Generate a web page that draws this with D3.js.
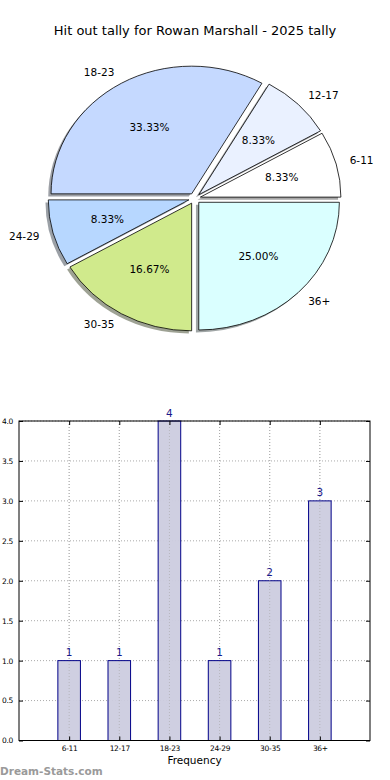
<!DOCTYPE html>
<html>
<head>
<meta charset="utf-8">
<script src="https://cdn.jsdelivr.net/npm/d3@7"></script>
<style>
html,body{margin:0;padding:0;background:#fff;}
svg{display:block;font-family:"DejaVu Sans",sans-serif;}
</style>
</head>
<body>
<svg id="c" width="390" height="780"></svg>
<script>
const title = "Hit out tally for Rowan Marshall - 2025 tally";
const categories = ["6-11","12-17","18-23","24-29","30-35","36+"];
const values = [1,1,4,1,2,3];
const pieColors = ["#ffffff","#eaf1ff","#c5d9ff","#b7d7ff","#d0ea8c","#daffff"];
const yTicks = [0,0.5,1,1.5,2,2.5,3,3.5,4];
const xLabel = "Frequency";
const watermark = "Dream-Stats.com";

const svg = d3.select("#c");

// ---------- Title ----------
svg.append("text").attr("x",195).attr("y",35).attr("text-anchor","middle")
  .attr("font-size",13).attr("fill","#000").text(title);

// ---------- Pie (elliptical, matplotlib style) ----------
const cx = 194.6, cy = 198.5, rx = 140.6, ry = 127.7;
const expl = 0.042;
const total = d3.sum(values);
let acc = 0;
const slices = values.map((v,i)=>{
  const t1 = acc/total*2*Math.PI; acc += v; const t2 = acc/total*2*Math.PI;
  const tm = (t1+t2)/2;
  return {i, v, t1, t2, tm,
    ox: expl*rx*Math.cos(tm), oy: -expl*ry*Math.sin(tm)};
});
const arc = d3.arc().innerRadius(0).outerRadius(1);
const pathFor = s => arc({startAngle: Math.PI/2 - s.t2, endAngle: Math.PI/2 - s.t1});

const pie = svg.append("g");
// shadows
slices.forEach(s=>{
  const c = d3.rgb(pieColors[s.i]);
  pie.append("path").attr("d", pathFor(s))
    .attr("transform",`translate(${cx+s.ox-0.02*rx},${cy+s.oy+0.02*ry}) scale(${rx},${ry})`)
    .attr("fill", d3.rgb(c.r*0.3,c.g*0.3,c.b*0.3)).attr("fill-opacity",0.5);
});
slices.forEach(s=>{
  pie.append("path").attr("d", pathFor(s))
    .attr("transform",`translate(${cx+s.ox},${cy+s.oy}) scale(${rx},${ry})`)
    .attr("fill", pieColors[s.i]).attr("stroke","#000").attr("stroke-width",0.8)
    .attr("vector-effect","non-scaling-stroke").attr("stroke-linejoin","round");
});
slices.forEach(s=>{
  const lx = cx + s.ox + 1.1*rx*Math.cos(s.tm);
  const ly = cy + s.oy - 1.1*ry*Math.sin(s.tm);
  pie.append("text").attr("x",lx).attr("y",ly).attr("dy","0.35em")
    .attr("text-anchor", Math.cos(s.tm) < 0 ? "end" : "start")
    .attr("font-size",10.5).attr("fill","#000").text(categories[s.i]);
  const px = cx + s.ox + 0.6*rx*Math.cos(s.tm);
  const py = cy + s.oy - 0.6*ry*Math.sin(s.tm);
  pie.append("text").attr("x",px).attr("y",py).attr("dy","0.35em")
    .attr("text-anchor","middle").attr("font-size",10.5).attr("fill","#000")
    .text((s.v/total*100).toFixed(2)+"%");
});

// ---------- Bar chart ----------
const L = 19, R = 370, T = 421, B = 740.5;
const x = d3.scaleLinear().domain([-1,6]).range([L,R]);
const y = d3.scaleLinear().domain([0,4]).range([B,T]);
const g = svg.append("g");
const bw = x(0.45)-x(0);

// grid
g.selectAll(".hg").data(yTicks).join("line")
  .attr("x1",L).attr("x2",R).attr("y1",d=>y(d)).attr("y2",d=>y(d))
  .attr("stroke","#aaa").attr("stroke-width",1).attr("stroke-dasharray","1,2");
g.selectAll(".vg").data(categories).join("line")
  .attr("x1",(d,i)=>x(i)).attr("x2",(d,i)=>x(i)).attr("y1",T).attr("y2",B)
  .attr("stroke","#aaa").attr("stroke-width",1).attr("stroke-dasharray","1,2");

// bars
g.selectAll(".bar").data(values).join("rect")
  .attr("x",(d,i)=>x(i)-bw/2).attr("width",bw)
  .attr("y",d=>y(d)).attr("height",d=>B-y(d))
  .attr("fill","#ccccdf").attr("fill-opacity",0.95)
  .attr("stroke","#000088").attr("stroke-width",1);
// grid over bars
g.selectAll(".vg2").data(categories).join("line")
  .attr("x1",(d,i)=>x(i)).attr("x2",(d,i)=>x(i)).attr("y1",d=>T).attr("y2",B)
  .attr("stroke","#aaa").attr("stroke-width",1).attr("stroke-dasharray","1,2").attr("opacity",0.6);

// value labels
g.selectAll(".vl").data(values).join("text")
  .attr("x",(d,i)=>x(i)).attr("y",d=>y(d)-4.5)
  .attr("text-anchor","middle").attr("font-size",10.5).attr("fill","#1a1a8c")
  .text(d=>d);

// frame
g.append("rect").attr("x",L).attr("y",T).attr("width",R-L).attr("height",B-T)
  .attr("fill","none").attr("stroke","#000").attr("stroke-width",1);

// axes ticks (inward)
const yAxis = d3.axisLeft(y).tickValues(yTicks).tickFormat(d3.format(".1f")).tickSizeInner(-4).tickSizeOuter(0).tickPadding(6);
const ya = g.append("g").attr("transform",`translate(${L},0)`).call(yAxis);
ya.select(".domain").remove();
ya.selectAll("text").attr("font-size",7.5).attr("fill","#000").attr("font-family","DejaVu Sans").attr("letter-spacing","-0.3");
ya.selectAll("line").attr("stroke","#000");
const yr = g.append("g").attr("transform",`translate(${R},0)`).call(d3.axisRight(y).tickValues(yTicks).tickSizeInner(-4).tickSizeOuter(0).tickFormat(""));
yr.select(".domain").remove();

const xAxis = d3.axisBottom(x).tickValues(d3.range(categories.length)).tickFormat(i=>categories[i]).tickSizeInner(-4).tickSizeOuter(0).tickPadding(5);
const xa = g.append("g").attr("transform",`translate(0,${B})`).call(xAxis);
xa.select(".domain").remove();
xa.selectAll("text").attr("font-size",7.5).attr("fill","#000").attr("font-family","DejaVu Sans").attr("letter-spacing","-0.3");
xa.selectAll("line").attr("stroke","#000");
const xt = g.append("g").attr("transform",`translate(0,${T})`).call(d3.axisTop(x).tickValues(d3.range(categories.length)).tickSizeInner(-4).tickSizeOuter(0).tickFormat(""));
xt.select(".domain").remove();

g.append("text").attr("x",(L+R)/2).attr("y",764).attr("text-anchor","middle")
  .attr("font-size",10.5).attr("fill","#000").text(xLabel);

svg.append("text").attr("x",0).attr("y",775).attr("font-size",10.5).attr("font-weight","600")
  .attr("fill","#9a9a9a").text(watermark);
</script>
</body>
</html>
